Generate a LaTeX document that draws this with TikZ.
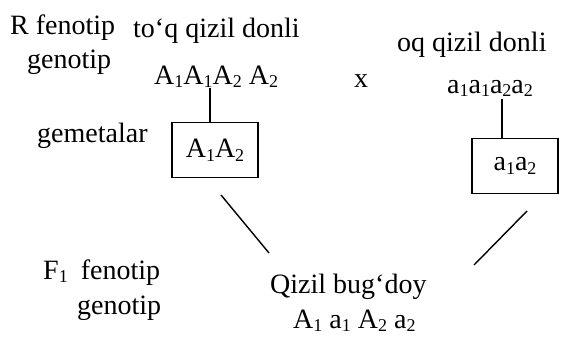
\documentclass[tikz,border=0pt]{standalone}
\usepackage{fontspec}
\setmainfont{Liberation Serif}
\newcommand{\sbs}[1]{\raisebox{-0.3ex}{\fontsize{18}{18}\selectfont #1}}
\begin{document}
\begin{tikzpicture}[x=1pt,y=-1pt,
  txt/.style={inner sep=0pt,anchor=base west,font=\fontsize{28}{32}\selectfont},
  gbox/.style={draw,line width=1.4pt,inner sep=0pt,minimum width=86pt,minimum height=55pt,font=\fontsize{28}{32}\selectfont},
  link/.style={line width=1.4pt}]
\useasboundingbox (0,0) rectangle (564,338);
% parents
\node[txt] (rfen) at (10,34) {R fenotip};
\node[txt] (rgen) at (27,68) {genotip};
\node[txt] (p1fen) at (133,37) {to‘q qizil donli};
\node[txt] (p1gen) at (154,84) {A\sbs{1}A\sbs{1}A\sbs{2} A\sbs{2}};
\node[txt] (cross) at (354,87) {x};
\node[txt] (p2fen) at (397,51) {oq qizil donli};
\node[txt] (p2gen) at (447,93) {a\sbs{1}a\sbs{1}a\sbs{2}a\sbs{2}};
% gametes
\node[txt] (gam) at (37,142) {gemetalar};
\node[gbox] (b1) at (215,150) {A\sbs{1}A\sbs{2}};
\node[gbox] (b2) at (515,166) {a\sbs{1}a\sbs{2}};
\coordinate (v1) at (210,88);
\coordinate (v2) at (502,99);
\draw[link] (v1) -- (v1 |- b1.north);
\draw[link] (v2) -- (v2 |- b2.north);
% F1
\node[txt] (f1fen) at (43,279) {F\sbs{1}\hspace{13pt}fenotip};
\node[txt] (f1gen) at (77,314) {genotip};
\node[txt] (chfen) at (270,293) {Qizil bug‘doy};
\node[txt] (chgen) at (293,328) {A\sbs{1} a\sbs{1} A\sbs{2} a\sbs{2}};
\coordinate (d1a) at (221,195);
\coordinate (d1b) at (269,253);
\coordinate (d2a) at (527,211);
\coordinate (d2b) at (474,265);
\draw[link] (d1a) -- (d1b);
\draw[link] (d2a) -- (d2b);
\end{tikzpicture}
\end{document}
